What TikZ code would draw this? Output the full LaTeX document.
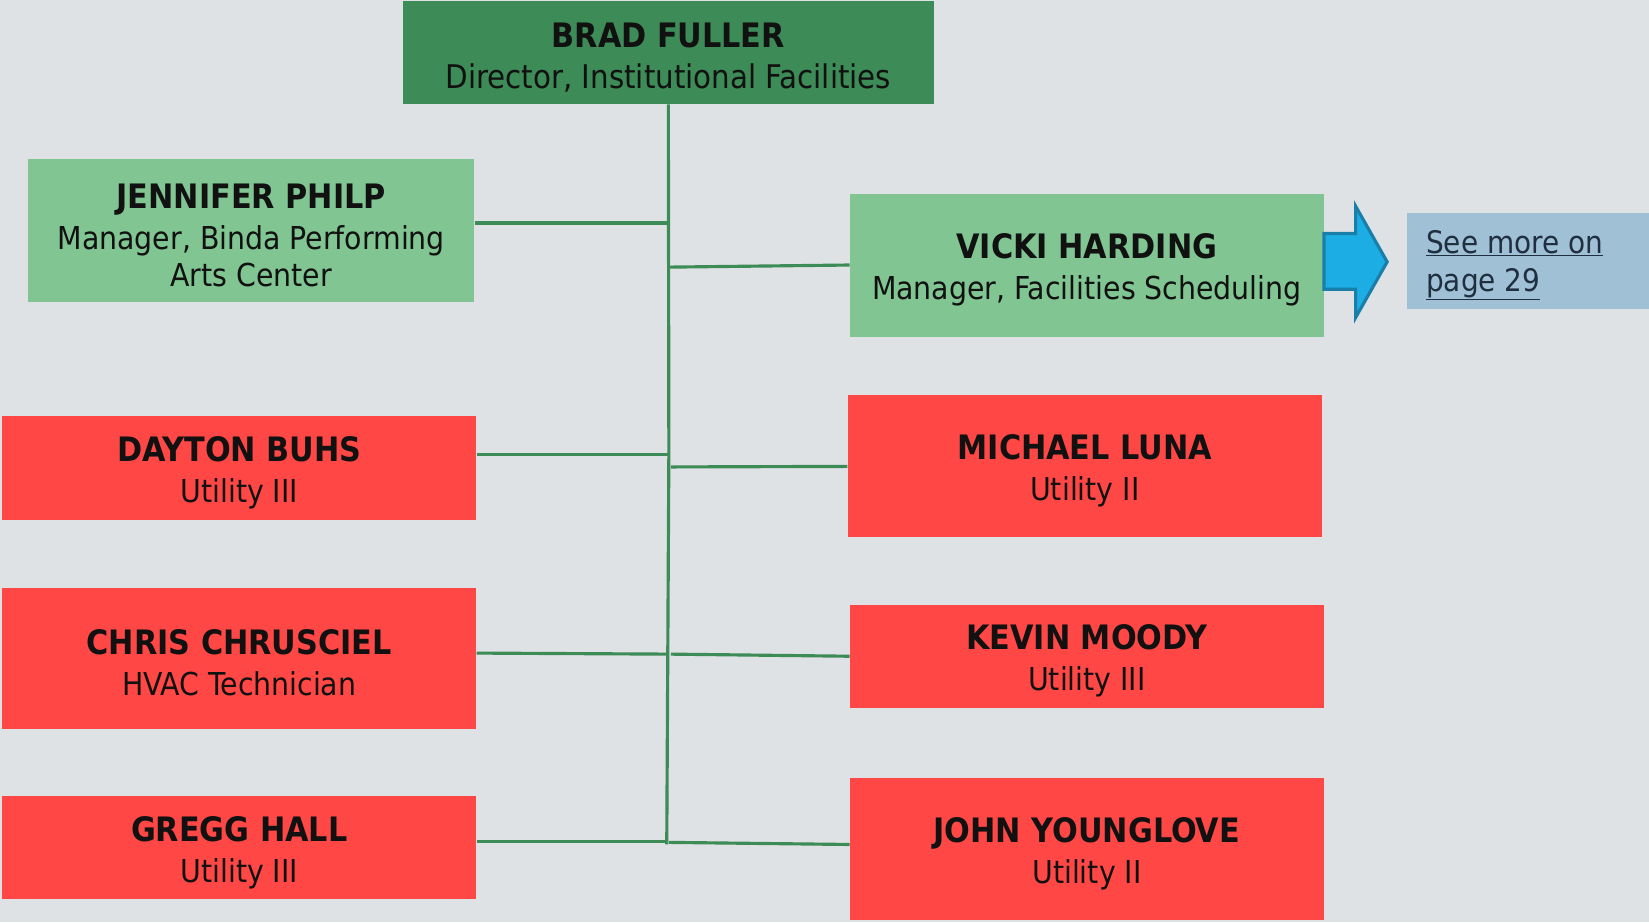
\documentclass[tikz,border=0pt]{standalone}
\usepackage{fontspec}
\setmainfont{DejaVu Sans Condensed}
\definecolor{bg}{HTML}{DFE2E5}
\definecolor{dkgreen}{HTML}{3D8B57}
\definecolor{ltgreen}{HTML}{80C592}
\definecolor{redbox}{HTML}{FF4845}
\definecolor{arrowblue}{HTML}{1BADE3}
\definecolor{arrowedge}{HTML}{1A7FA8}
\definecolor{linkbox}{HTML}{A0C0D6}
\definecolor{linktext}{HTML}{1F2F3F}
\definecolor{ink}{HTML}{111111}
\newcommand{\nmline}[1]{\rule{0pt}{33pt}\textbf{\fontsize{32}{39}\selectfont #1}}
\begin{document}
\begin{tikzpicture}[x=1pt,y=-1pt,
  box/.style={rectangle, inner sep=0pt, align=center, text=ink,
    font=\fontsize{30}{39}\selectfont},
  top/.style={box, fill=dkgreen},
  mgr/.style={box, fill=ltgreen},
  staff/.style={box, fill=redbox},
  conn/.style={draw=dkgreen, line width=3pt}]
\fill[bg] (0,0) rectangle (1568,877);
\useasboundingbox (0,0) rectangle (1568,877);

\node[top, minimum width=505pt, minimum height=98pt, font=\fontsize{31}{39}\selectfont] (brad) at (635.5,50)
  {\nmline{BRAD FULLER}\\Director, Institutional Facilities};
\node[mgr, minimum width=424pt, minimum height=136pt] (jennifer) at (239,219)
  {\nmline{JENNIFER PHILP}\\Manager, Binda Performing\\[-3pt]Arts Center};
\node[mgr, minimum width=451pt, minimum height=136pt] (vicki) at (1033.5,252)
  {\nmline{VICKI HARDING}\\Manager, Facilities Scheduling};
\node[staff, minimum width=451pt, minimum height=98pt] (dayton) at (227.5,445)
  {\nmline{DAYTON BUHS}\\Utility III};
\node[staff, minimum width=451pt, minimum height=134pt] (chris) at (227.5,626)
  {\nmline{CHRIS CHRUSCIEL}\\HVAC Technician};
\node[staff, minimum width=451pt, minimum height=98pt] (gregg) at (227.5,806)
  {\nmline{GREGG HALL}\\Utility III};
\node[staff, minimum width=451pt, minimum height=135pt] (michael) at (1031.5,443.5)
  {\nmline{MICHAEL LUNA}\\Utility II};
\node[staff, minimum width=451pt, minimum height=98pt] (kevin) at (1033.5,624)
  {\nmline{KEVIN MOODY}\\Utility III};
\node[staff, minimum width=451pt, minimum height=135pt] (john) at (1033.5,807.5)
  {\nmline{JOHN YOUNGLOVE}\\Utility II};

\node[rectangle, fill=linkbox, minimum width=230pt, minimum height=91pt, inner sep=0pt] (link) at (1453,248.5) {};
\node[anchor=west, align=left, text=linktext, inner sep=0pt,
  font=\fontsize{29.5}{36}\selectfont] (linktxt) at (1356,252)
  {\underline{See more on}\\\underline{page 29}};

\draw[fill=arrowblue, draw=arrowedge, line width=3pt, line join=miter]
  (1259,222) -- (1289,222) -- (1289,196) -- (1319,249) -- (1289,302) -- (1289,275) -- (1259,275) -- cycle;

% trunk
\coordinate (tbot) at (634,803);
\coordinate (tj) at (636,212);
\coordinate (tv) at (637,254);
\coordinate (td) at (636,432);
\coordinate (tm) at (638,444);
\coordinate (tc) at (636,622);
\coordinate (tk) at (638,622);
\coordinate (tg) at (634,800);
\coordinate (tjy) at (636,801);

\draw[conn] (brad.south) -- (636,430) -- (tbot);
\draw[conn] (jennifer.east |- tj) -- (tj);
\draw[conn] (tv) -- (vicki.west);
\draw[conn] (dayton.east |- td) -- (td);
\draw[conn] (tm) -- (michael.west);
\draw[conn] (chris.east |- 453,621) -- (tc);
\draw[conn] (tk) -- (kevin.west);
\draw[conn] (gregg.east |- tg) -- (tg);
\draw[conn] (tjy) -- (john.west |- 0,803);
\end{tikzpicture}
\end{document}
